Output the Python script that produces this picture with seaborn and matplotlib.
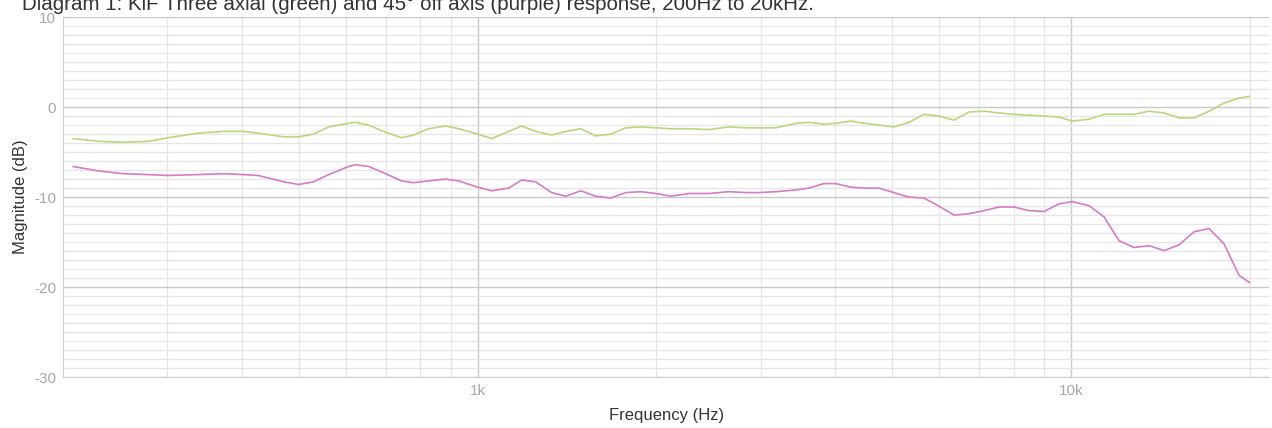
import matplotlib
matplotlib.use("Agg")
import matplotlib.pyplot as plt
import seaborn as sns
import pandas as pd
from matplotlib.ticker import FixedLocator, NullFormatter

# frequency points (Hz), shared by both curves
freq = [208, 230, 253, 279, 301, 338, 373, 403, 427, 471, 499, 529, 561, 606,
        623, 655, 694, 744, 780, 827, 883, 929, 1000, 1056, 1128, 1186, 1252,
        1333, 1407, 1492, 1581, 1676, 1776, 1883, 1996, 2116, 2270, 2452, 2650,
        2842, 2977, 3181, 3439, 3616, 3832, 4016, 4256, 4477, 4746, 5029, 5331,
        5650, 5990, 6349, 6730, 7134, 7561, 8015, 8496, 9005, 9546, 10040,
        10720, 11370, 12050, 12770, 13540, 14350, 15210, 16120, 17090, 18110,
        19200, 20000]

# axial response (green), dB
axial = [-3.5, -3.8, -3.9, -3.8, -3.4, -2.9, -2.7, -2.7, -2.9, -3.3, -3.3, -3.0,
         -2.2, -1.8, -1.7, -2.0, -2.7, -3.4, -3.1, -2.4, -2.1, -2.4, -3.0, -3.5,
         -2.7, -2.1, -2.7, -3.1, -2.7, -2.4, -3.2, -3.0, -2.3, -2.2, -2.3, -2.4,
         -2.4, -2.5, -2.2, -2.3, -2.3, -2.3, -1.8, -1.7, -1.9, -1.8, -1.55, -1.8,
         -2.0, -2.2, -1.7, -0.8, -1.0, -1.45, -0.55, -0.45, -0.65, -0.8, -0.9,
         -1.0, -1.1, -1.55, -1.35, -0.8, -0.8, -0.8, -0.45, -0.65, -1.2, -1.2,
         -0.45, 0.45, 1.0, 1.2]

# 45 degree off axis response (purple), dB
off_axis = [-6.6, -7.1, -7.4, -7.5, -7.6, -7.5, -7.4, -7.5, -7.6, -8.3, -8.6,
            -8.3, -7.5, -6.6, -6.4, -6.6, -7.3, -8.2, -8.4, -8.2, -8.0, -8.2,
            -8.9, -9.3, -9.0, -8.1, -8.3, -9.5, -9.9, -9.3, -9.9, -10.1, -9.5,
            -9.4, -9.6, -9.9, -9.6, -9.6, -9.4, -9.5, -9.5, -9.4, -9.2, -9.0,
            -8.5, -8.5, -8.9, -9.0, -9.0, -9.5, -10.0, -10.1, -11.0, -12.0,
            -11.85, -11.5, -11.1, -11.1, -11.5, -11.6, -10.75, -10.5, -10.95,
            -12.2, -14.85, -15.6, -15.4, -15.95, -15.3, -13.85, -13.5, -15.2,
            -18.7, -19.5]

df = pd.DataFrame({"Frequency": freq + freq,
                   "Magnitude": axial + off_axis,
                   "Curve": ["axial"] * len(freq) + ["off axis"] * len(freq)})

sns.set_style("white")
plt.rcParams["font.family"] = ["Liberation Sans", "DejaVu Sans"]
plt.rcParams["axes.unicode_minus"] = False

fig = plt.figure(figsize=(12.72, 4.28), dpi=100)
ax = fig.add_axes([0.0495, 0.119, 0.9485, 0.841])

sns.lineplot(data=df, x="Frequency", y="Magnitude", hue="Curve",
             palette={"axial": "#bcd67e", "off axis": "#d77cc4"},
             linewidth=1.2, legend=False, ax=ax, zorder=3)

ax.set_xscale("log")
ax.set_xlim(200, 21600)
ax.set_ylim(-30, 10)

ax.xaxis.set_major_locator(FixedLocator([1000, 10000]))
ax.set_xticklabels(["1k", "10k"])
minor_x = [300, 400, 500, 600, 700, 800, 900, 2000, 3000, 4000, 5000, 6000,
           7000, 8000, 9000, 20000]
ax.xaxis.set_minor_locator(FixedLocator(minor_x))
ax.xaxis.set_minor_formatter(NullFormatter())

ax.set_yticks([-30, -20, -10, 0, 10])
ax.yaxis.set_minor_locator(FixedLocator(list(range(-30, 11))))

ax.grid(which="major", color="#c9c9c9", linewidth=1.0)
ax.grid(which="minor", color="#e6e6e6", linewidth=0.9)
ax.set_axisbelow(True)

ax.tick_params(which="both", length=0)
ax.tick_params(axis="both", labelsize=11, labelcolor="#a8a8a8", pad=5)

for side in ["top", "right"]:
    ax.spines[side].set_visible(False)
for side in ["left", "bottom"]:
    ax.spines[side].set_color("#cfcfcf")

ax.set_xlabel("Frequency (Hz)", fontsize=12, color="#333333")
ax.set_ylabel("Magnitude (dB)", fontsize=12, color="#333333")
ax.xaxis.set_label_coords(0.5, -0.086)
ax.yaxis.set_label_coords(-0.029, 0.5)

fig.text(22 / 1272, 1 - 10 / 428,
         "Diagram 1: KiF Three axial (green) and 45° off axis (purple) response, 200Hz to 20kHz.",
         fontsize=14.8, color="#333333", ha="left", va="baseline")

fig.savefig("out.png", dpi=100)
